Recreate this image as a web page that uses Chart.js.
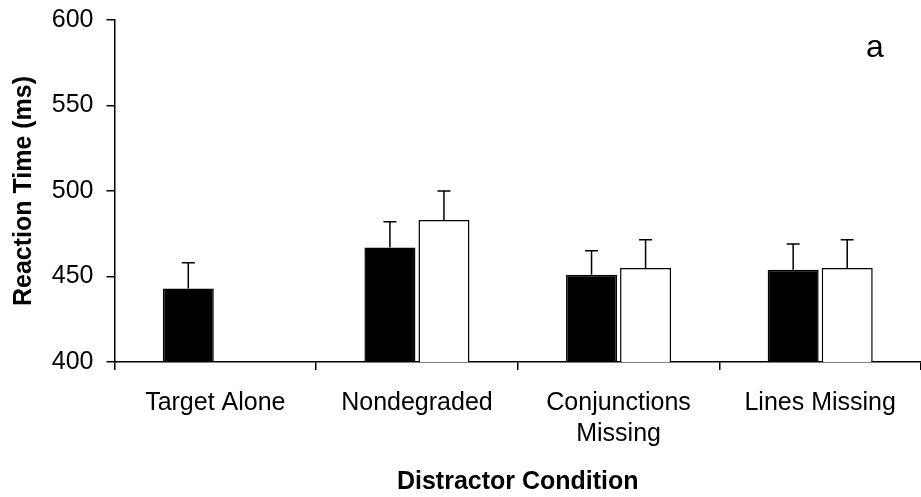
<!DOCTYPE html>
<html>
<head>
<meta charset="utf-8">
<script src="https://cdn.jsdelivr.net/npm/chart.js@4"></script>
<style>
  body { margin: 0; background: #fff; }
  #wrap { width: 921px; height: 497px; position: relative; }
</style>
</head>
<body>
<div id="wrap"><canvas id="chart"></canvas></div>
<script>
// conditions on the x axis
const categories = ['Target Alone', 'Nondegraded', ['Conjunctions', 'Missing'], 'Lines Missing']

// mean reaction times (ms), black and white bars
const blackValues = [443, 467, 451, 454]
const whiteValues = [null, 483, 455, 455]

// upper error bars (ms)
const blackErrors = [15, 15, 14, 15]
const whiteErrors = [null, 17, 16.5, 16.5]

const yTicks = [400, 450, 500, 550, 600]
const panelLabel = 'a'

const fontFamily = '"Liberation Sans", Arial, sans-serif'
const errors = [blackErrors, whiteErrors]

/* draws the upward error bars on top of each bar */
const errorBars = {
    id: 'errorBars',
    afterDatasetsDraw(chart) {
        const ctx = chart.ctx
        const yScale = chart.scales.y
        ctx.save()
        ctx.strokeStyle = '#000'
        ctx.lineWidth = 1.5
        chart.data.datasets.forEach(function (ds, i) {
            const meta = chart.getDatasetMeta(i)
            meta.data.forEach(function (bar, j) {
                if (ds.data[j] == null) return
                const top = yScale.getPixelForValue(ds.data[j] + errors[i][j])
                ctx.beginPath()
                ctx.moveTo(bar.x, bar.y)
                ctx.lineTo(bar.x, top)
                ctx.moveTo(bar.x - 6.5, top)
                ctx.lineTo(bar.x + 6.5, top)
                ctx.stroke()
            })
        })
        ctx.restore()
    }
}

/* the little "a" in the corner */
const panelText = {
    id: 'panelText',
    afterDraw(chart) {
        const ctx = chart.ctx
        const area = chart.chartArea
        ctx.save()
        ctx.fillStyle = '#000'
        ctx.font = '32px ' + fontFamily
        ctx.textAlign = 'center'
        ctx.textBaseline = 'alphabetic'
        ctx.fillText(panelLabel, area.right - 46, area.top + 37)
        ctx.restore()
    }
}

const myChart = new Chart(document.getElementById('chart'), {
    type: 'bar',
    data: {
        labels: categories,
        datasets: [{
            data: blackValues,
            backgroundColor: '#000',
            borderColor: '#000',
            borderWidth: 1.5,
        },
        {
            data: whiteValues,
            backgroundColor: '#fff',
            borderColor: '#000',
            borderWidth: 1.5,
        }]
    },
    options: {
        responsive: true,
        maintainAspectRatio: false,
        animation: false,
        categoryPercentage: 0.536,
        barPercentage: 0.944,
        layout: {
            padding: { top: 20, right: 0, bottom: 0, left: 0 }
        },
        plugins: {
            legend: { display: false },
            tooltip: { enabled: false }
        },
        scales: {
            x: {
                afterFit: function (scale) { scale.height = 135 },
                grid: {
                    offset: true,
                    drawOnChartArea: false,
                    drawTicks: true,
                    tickLength: 8,
                    color: '#000',
                    lineWidth: 1.5,
                },
                border: { display: true, color: '#000', width: 1.5 },
                ticks: {
                    color: '#000',
                    padding: 17,
                    font: { family: fontFamily, size: 25, lineHeight: 1.25 },
                    maxRotation: 0,
                    autoSkip: false,
                },
                title: {
                    display: true,
                    text: 'Distractor Condition',
                    color: '#000',
                    font: { family: fontFamily, size: 25, weight: 'bold', lineHeight: 1.2 },
                    padding: { top: 0, bottom: 0 }
                }
            },
            y: {
                min: 400,
                max: 600,
                afterFit: function (scale) {
                    scale.width = 114.5
                    scale.paddingTop = 0
                    scale.paddingBottom = 0
                },
                afterBuildTicks: function (scale) {
                    scale.ticks = yTicks.map(function (v) { return { value: v } })
                },
                grid: {
                    drawOnChartArea: false,
                    drawTicks: true,
                    tickLength: 8,
                    color: '#000',
                    lineWidth: 1.5,
                },
                border: { display: true, color: '#000', width: 1.5 },
                ticks: {
                    color: '#000',
                    padding: 13,
                    font: { family: fontFamily, size: 25 },
                },
                title: {
                    display: true,
                    text: 'Reaction Time (ms)',
                    color: '#000',
                    font: { family: fontFamily, size: 25, weight: 'bold', lineHeight: 1.2 },
                    padding: { top: 9, bottom: 0 }
                }
            }
        }
    },
    plugins: [errorBars, panelText]
})
</script>
</body>
</html>
